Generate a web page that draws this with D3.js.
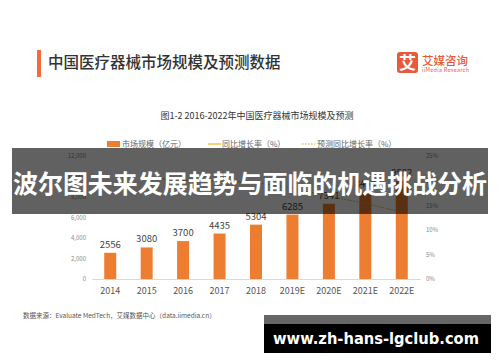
<!DOCTYPE html>
<html><head><meta charset="utf-8">
<script src="https://cdn.jsdelivr.net/npm/d3@7"></script>
<style>body{margin:0;background:#fff}svg{display:block}</style>
</head><body>
<svg id="c" width="500" height="362"></svg>
<script>
const categories = ["2014","2015","2016","2017","2018","2019E","2020E","2021E","2022E"];
const marketSize = [2556,3080,3700,4435,5304,6285,7341,8450,9582];
const actualYears = ["2015","2016","2017","2018"];
const actualGrowth = [20.5,20.1,19.9,19.6];
const forecastYears = ["2018","2019E","2020E","2021E","2022E"];
const forecastGrowth = [19.6,18.5,16.8,15.4,13.6];
const leftTicks = [0,2000,4000,6000,8000,10000,12000];
const rightTicks = [0,5,10,15,20,25];

const F = "'Noto Sans CJK SC','Noto Sans',sans-serif";
const svg = d3.select("#c");
svg.append("rect").attr("width",500).attr("height",362).attr("fill","#fff");

// header
svg.append("rect").attr("x",37).attr("y",50).attr("width",4).attr("height",27).attr("fill","#f26c3b");
svg.append("text").attr("x",48).attr("y",68).attr("font-family",F).attr("font-size",15.5).attr("font-weight",500)
  .attr("fill","#333").text("中国医疗器械市场规模及预测数据");
svg.append("rect").attr("x",397).attr("y",52).attr("width",21).attr("height",21).attr("rx",3).attr("fill","#e8593a");
svg.append("text").attr("x",407.5).attr("y",69).attr("text-anchor","middle").attr("font-family",F).attr("font-size",17).attr("font-weight",700).attr("fill","#fff").text("艾");
svg.append("text").attr("x",422).attr("y",65).attr("font-family",F).attr("font-size",11.5).attr("font-weight",500).attr("fill","#e8593a").text("艾媒咨询");
svg.append("text").attr("x",422).attr("y",72).attr("font-family",F).attr("font-size",5.5).attr("fill","#e8593a").attr("textLength",47).text("iiMedia Research");

svg.append("text").attr("x",257).attr("y",119).attr("text-anchor","middle").attr("font-family",F).attr("font-size",9).attr("fill","#333")
  .text("图1-2 2016-2022年中国医疗器械市场规模及预测");

// scales
const x = d3.scaleBand().domain(categories).range([92,420]).padding(0);
const y = d3.scaleLinear().domain([0,12000]).range([279,156]);
const y2 = d3.scaleLinear().domain([0,25]).range([279,156]);

// axes
const gl = svg.append("g").attr("transform","translate(86,0)")
  .call(d3.axisLeft(y).tickValues(leftTicks).tickSize(0).tickPadding(0));
gl.select(".domain").remove();
gl.selectAll("text").attr("font-family",F).attr("font-size",6).attr("fill","#888");
const gr = svg.append("g").attr("transform","translate(426,0)")
  .call(d3.axisRight(y2).tickValues(rightTicks).tickSize(0).tickPadding(0).tickFormat(d=>d+"%"));
gr.select(".domain").remove();
gr.selectAll("text").attr("font-family",F).attr("font-size",6).attr("fill","#888");

const gx = svg.append("g").attr("transform","translate(0,279)")
  .call(d3.axisBottom(x).tickSize(0).tickPadding(9));
gx.select(".domain").attr("stroke","#d9d9d9");
gx.selectAll("text").attr("font-family",F).attr("font-size",9).attr("fill","#555");

// bars
const bw = 12;
svg.append("g").selectAll("rect").data(categories).join("rect")
  .attr("x",d=>x(d)+x.bandwidth()/2-bw/2).attr("width",bw)
  .attr("y",(d,i)=>y(marketSize[i])).attr("height",(d,i)=>y(0)-y(marketSize[i]))
  .attr("fill","#ed7d31");
svg.append("g").selectAll("text").data(categories).join("text")
  .attr("x",d=>x(d)+x.bandwidth()/2).attr("y",(d,i)=>y(marketSize[i])-5)
  .attr("text-anchor","middle").attr("font-family",F).attr("font-size",9.5).attr("fill","#444")
  .text((d,i)=>marketSize[i]);

// lines
const cx = d=>x(d)+x.bandwidth()/2;
svg.append("path").datum(actualYears.map((d,i)=>[cx(d),y2(actualGrowth[i])]))
  .attr("d",d3.line()).attr("fill","none").attr("stroke","#f5c342").attr("stroke-width",1.2);
svg.append("path").datum(forecastYears.map((d,i)=>[cx(d),y2(forecastGrowth[i])]))
  .attr("d",d3.line()).attr("fill","none").attr("stroke","#c9b23a").attr("stroke-width",1).attr("stroke-dasharray","1.5,1.5");

// legend
const lg = svg.append("g").attr("font-family",F).attr("font-size",8).attr("fill","#666");
lg.append("rect").attr("x",107).attr("y",141).attr("width",13).attr("height",6).attr("fill","#ed7d31");
lg.append("text").attr("x",122).attr("y",147).text("市场规模（亿元）");
lg.append("line").attr("x1",208).attr("x2",221).attr("y1",144).attr("y2",144).attr("stroke","#f5c342").attr("stroke-width",1.5);
lg.append("text").attr("x",222).attr("y",147).text("同比增长率（%）");
lg.append("line").attr("x1",302).attr("x2",315).attr("y1",144).attr("y2",144).attr("stroke","#c9b23a").attr("stroke-width",1).attr("stroke-dasharray","1.5,1.5");
lg.append("text").attr("x",317).attr("y",147).text("预测同比增长率（%）");

// source
svg.append("text").attr("x",23).attr("y",318).attr("font-family",F).attr("font-size",6.5).attr("fill","#555")
  .text("数据来源：Evaluate MedTech，艾媒数据中心（data.iimedia.cn）");

// overlay banner
svg.append("rect").attr("x",12).attr("y",148).attr("width",476).attr("height",66).attr("fill","rgba(0,0,0,0.62)");
svg.append("text").attr("x",250).attr("y",193).attr("text-anchor","middle").attr("font-family",F).attr("font-size",25).attr("font-weight",700)
  .attr("fill","#fff").attr("textLength",474).attr("lengthAdjust","spacingAndGlyphs").text("波尔图未来发展趋势与面临的机遇挑战分析");

// bottom url box
svg.append("rect").attr("x",264).attr("y",315).attr("width",227).attr("height",9).attr("fill","#666");
svg.append("rect").attr("x",264).attr("y",324).attr("width",227).attr("height",29).attr("fill","#000");
svg.append("text").attr("x",273).attr("y",344).attr("font-family","'DejaVu Sans',sans-serif").attr("font-size",16).attr("font-weight",700)
  .attr("fill","#fff").attr("textLength",206).attr("lengthAdjust","spacingAndGlyphs").text("www.zh-hans-lgclub.com");
</script>
</body></html>
